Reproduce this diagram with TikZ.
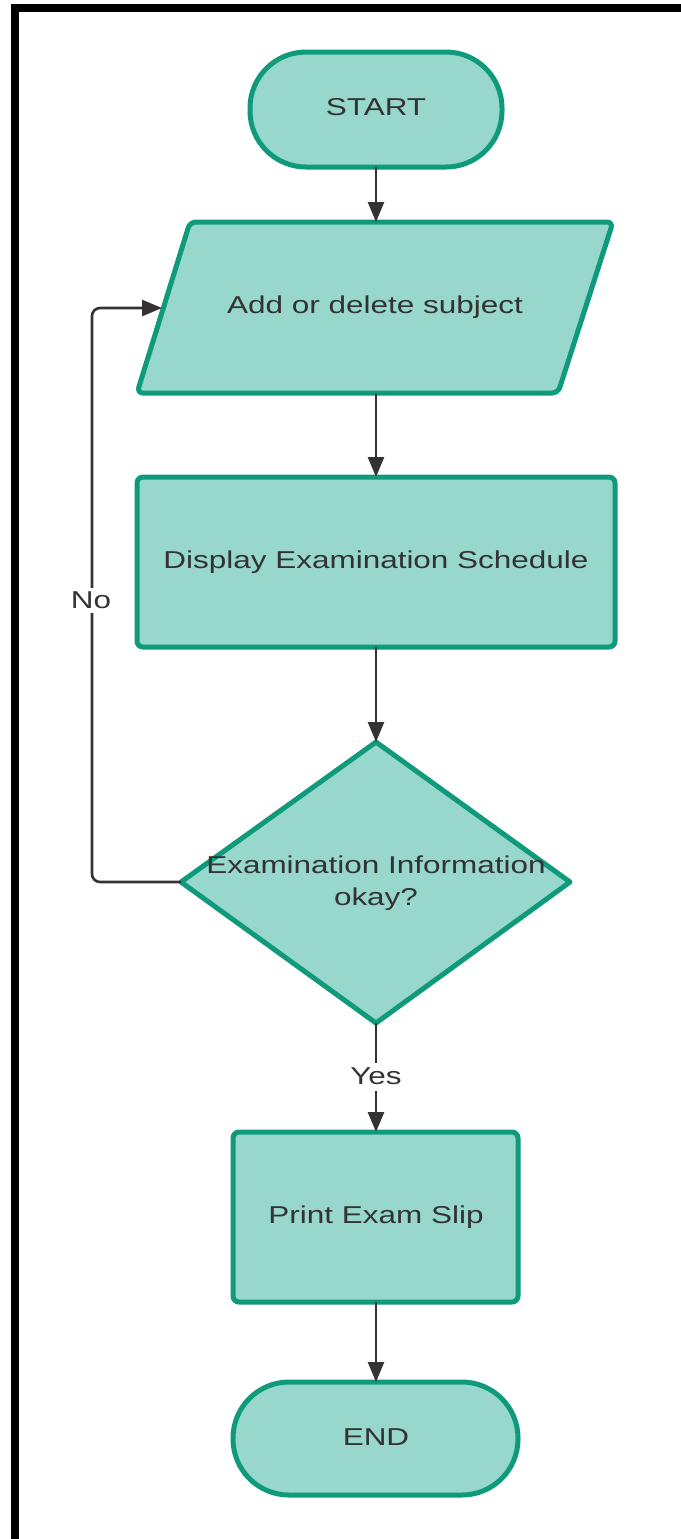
\documentclass[tikz,border=0pt]{standalone}
\usepackage{fontspec}
\setmainfont{Liberation Sans}[FakeStretch=1.29]
\usetikzlibrary{arrows.meta}
\definecolor{edgec}{HTML}{109A7C}
\definecolor{fillc}{HTML}{98D7CB}
\definecolor{txtc}{HTML}{333333}
\definecolor{linec}{HTML}{333333}
\tikzset{
  shapebox/.style={draw=edgec, fill=fillc, line width=2.5pt},
  lbl/.style={text=txtc, font=\fontsize{12.2}{16}\selectfont, inner sep=0pt, align=center},
  conn/.style={draw=linec, line width=1.3pt, -{Triangle[length=10pt,width=8pt]}},
  plain/.style={draw=linec, line width=1.3pt},
}
\begin{document}
\begin{tikzpicture}[x=0.5pt,y=-0.5pt]
\useasboundingbox (0,0) rectangle (681,1539);
% frame
\fill[black] (11,4) rectangle (681,12);
\fill[black] (11,4) rectangle (19,1539);
% START
\draw[shapebox, rounded corners=28pt] (250,52) rectangle (502,167);
\node[lbl] (start) at (376,107) {START};
\coordinate (startb) at (376,167);
% parallelogram
\draw[shapebox, rounded corners=3pt] (190,222) -- (613,222) -- (558,393) -- (137,393) -- cycle;
\node[lbl] (add) at (375,307) {Add or delete subject};
\coordinate (addt) at (376,222);
\coordinate (addb) at (376,393);
\coordinate (addl) at (162,308);
% display rect
\draw[shapebox, rounded corners=3pt] (137,477) rectangle (615,647);
\node[lbl] (disp) at (376,562) {Display Examination Schedule};
\coordinate (dispt) at (376,477);
\coordinate (dispb) at (376,647);
% diamond
\draw[shapebox, line join=round] (376,742) -- (570,882) -- (376,1023) -- (181,882) -- cycle;
\node[lbl] (dec) at (376,883) {Examination Information\\okay?};
\coordinate (dect) at (376,742);
\coordinate (decb) at (376,1023);
\coordinate (decl) at (181,882);
% print
\draw[shapebox, rounded corners=3pt] (233,1132) rectangle (518,1302);
\node[lbl] (print) at (376,1217) {Print Exam Slip};
\coordinate (printt) at (376,1132);
\coordinate (printb) at (376,1302);
% END
\draw[shapebox, rounded corners=28pt] (233,1382) rectangle (518,1495);
\node[lbl] (end) at (376,1437) {END};
\coordinate (endt) at (376,1382);
% connectors
\draw[conn] (startb) -- (addt);
\draw[conn] (addb) -- (dispt);
\draw[conn] (dispb) -- (dect);
\node[lbl] (yes) at (376,1076) {Yes};
\draw[plain] (decb) -- ([yshift=2pt]yes.north);
\draw[conn] ([yshift=-3pt]yes.south) -- (printt);
\draw[conn] (printb) -- (endt);
\draw[conn, rounded corners=4pt] (decl) -- (92,882) -- (92,308) -- (addl);
\node[lbl, fill=white, inner sep=2pt] (no) at (91,600) {No};
\end{tikzpicture}
\end{document}
